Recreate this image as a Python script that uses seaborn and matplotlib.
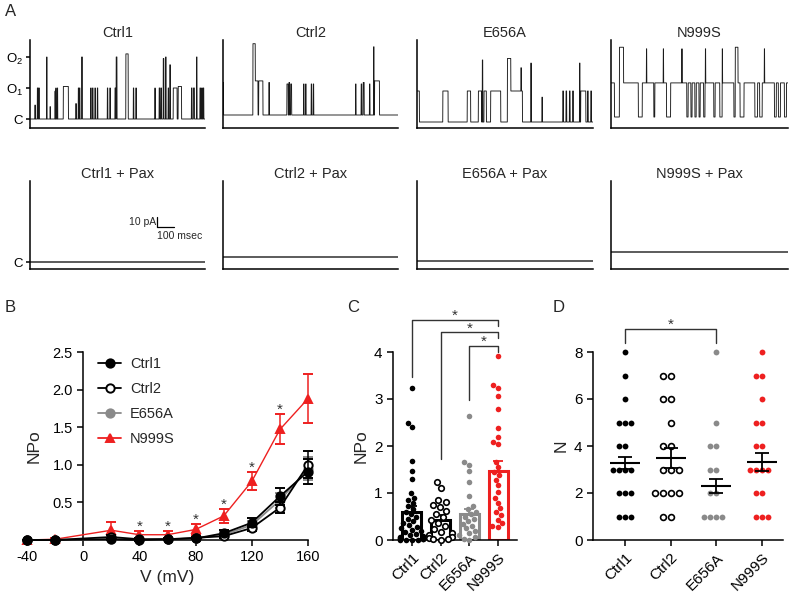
import numpy as np
import seaborn as sns
import matplotlib.pyplot as plt
from matplotlib.lines import Line2D

sns.set_style("ticks")
plt.rcParams['font.family'] = ['Liberation Sans', 'DejaVu Sans']
plt.rcParams['mathtext.fontset'] = 'custom'
plt.rcParams['mathtext.rm'] = 'Liberation Sans'
plt.rcParams['axes.unicode_minus'] = False
plt.rcParams['axes.linewidth'] = 1.1
plt.rcParams['xtick.major.width'] = 1.1
plt.rcParams['ytick.major.width'] = 1.1
plt.rcParams['xtick.color'] = 'black'
plt.rcParams['ytick.color'] = 'black'
plt.rcParams['axes.edgecolor'] = 'black'

groups = ['Ctrl1', 'Ctrl2', 'E656A', 'N999S']
palette = {'Ctrl1': '#000000', 'Ctrl2': '#000000', 'E656A': '#8a8a8a', 'N999S': '#ee2020'}

# ---- A: channel openings, (start ms, end ms, open level)
ctrl1_events = [
    (29, 31, 0.45), (43, 47, 1.0), (51, 55, 1.0), (98, 100, 2.0), (118, 120, 0.4),
    (147, 149, 0.9), (152, 154, 1.0), (161, 163, 1.0), (196, 226, 1.05), (270, 272, 0.5),
    (284, 287, 1.0), (291, 294, 1.0), (304, 308, 2.0), (357, 360, 1.0), (368, 371, 1.0),
    (382, 385, 1.0), (396, 399, 1.0), (455, 458, 1.0), (470, 473, 1.0), (500, 504, 1.0),
    (507, 512, 2.0), (564, 578, 2.1), (608, 611, 1.0), (623, 626, 1.0), (735, 737, 1.0),
    (760, 764, 1.0), (770, 774, 1.0), (784, 788, 1.95), (798, 801, 2.0), (813, 816, 1.0),
    (823, 826, 1.75), (843, 866, 1.0), (872, 892, 1.05), (950, 954, 1.0), (962, 968, 1.0),
    (980, 983, 2.0), (1000, 1004, 1.0), (1010, 1014, 1.0), (1019, 1023, 1.0),
]
ctrl2_events = [
    (0, 3, 1.05), (176, 190, 2.3), (190, 206, 1.1), (210, 235, 1.1), (270, 273, 1.05),
    (376, 384, 1.0), (388, 392, 1.05), (398, 404, 1.0), (474, 477, 1.0), (486, 489, 1.0),
    (519, 522, 1.0), (531, 534, 1.0), (780, 783, 1.0), (813, 817, 1.0), (825, 831, 1.05),
    (862, 865, 1.0), (886, 889, 2.2), (892, 921, 1.1),
]
e656a_events = [
    (0, 14, 1.0), (151, 182, 1.0), (294, 314, 1.0), (359, 378, 1.0), (382, 385, 2.0),
    (392, 406, 1.0), (431, 490, 1.0), (529, 549, 2.05), (549, 617, 1.0), (608, 611, 1.75),
    (666, 669, 1.9), (731, 734, 0.8), (853, 857, 1.0), (872, 876, 1.0), (892, 896, 1.0),
    (911, 915, 1.0), (951, 954, 1.9), (958, 988, 1.0), (998, 1002, 1.0), (1017, 1021, 1.0),
]
n999s_events = [
    (0, 20, 1.1), (49, 73, 2.25), (73, 159, 1.1), (182, 249, 1.1), (255, 323, 1.1),
    (347, 441, 1.1), (449, 465, 1.1), (472, 488, 1.1), (496, 512, 1.1), (519, 539, 1.1),
    (547, 598, 1.1), (606, 633, 1.1), (649, 715, 1.1), (723, 739, 2.25), (739, 751, 1.1),
    (774, 837, 1.1), (853, 865, 1.1), (880, 951, 1.1), (962, 974, 1.1), (986, 1009, 1.1),
    (1021, 1030, 1.1), (206, 208, 2.2), (304, 306, 2.2), (412, 414, 2.2), (549, 551, 2.2),
    (647, 649, 2.2), (892, 894, 2.2),
]
trace_events = [ctrl1_events, ctrl2_events, e656a_events, n999s_events]
unit_current = 31      # pA per open channel
record_ms = 1030

# ---- B: NPo vs voltage
voltage = [-40, -20, 20, 40, 60, 80, 100, 120, 140, 160]
npo_v = {
    'Ctrl1': [0, 0, 0.01, 0.0, 0.01, 0.02, 0.09, 0.23, 0.58, 0.91],
    'Ctrl2': [0, 0, 0.04, 0.01, 0.01, 0.03, 0.05, 0.16, 0.43, 1.00],
    'E656A': [0, 0, 0.01, 0.01, 0.01, 0.02, 0.07, 0.20, 0.53, 0.95],
    'N999S': [0, 0.01, 0.13, 0.07, 0.07, 0.14, 0.32, 0.78, 1.47, 1.88],
}
sem_v = {
    'Ctrl1': [0, 0, 0.01, 0.01, 0.01, 0.01, 0.04, 0.06, 0.11, 0.17],
    'Ctrl2': [0, 0, 0.02, 0.01, 0.01, 0.01, 0.02, 0.04, 0.07, 0.18],
    'E656A': [0, 0, 0.01, 0.01, 0.01, 0.01, 0.03, 0.05, 0.10, 0.15],
    'N999S': [0, 0.01, 0.11, 0.05, 0.05, 0.07, 0.09, 0.12, 0.20, 0.33],
}
star_voltages = [40, 60, 80, 100, 120, 140]

# ---- C: NPo per cell at +140 mV
npo_cells = {
    'Ctrl1': [3.23, 2.49, 2.40, 1.68, 1.47, 1.30, 1.00, 0.90, 0.85, 0.78, 0.72, 0.66, 0.60,
              0.55, 0.50, 0.45, 0.40, 0.36, 0.32, 0.28, 0.25, 0.22, 0.19, 0.16, 0.13, 0.11,
              0.09, 0.07, 0.05, 0.04, 0.03, 0.02, 0.02, 0.01, 0.01, 0.0, 0.0],
    'Ctrl2': [1.23, 1.10, 0.85, 0.80, 0.75, 0.70, 0.62, 0.55, 0.48, 0.42, 0.36, 0.30, 0.24,
              0.18, 0.14, 0.10, 0.07, 0.05, 0.03, 0.02, 0.01],
    'E656A': [2.64, 1.66, 1.60, 1.47, 1.23, 0.94, 0.72, 0.66, 0.60, 0.55, 0.50, 0.45, 0.40,
              0.35, 0.30, 0.25, 0.20, 0.15, 0.10, 0.06, 0.03, 0.01],
    'N999S': [3.91, 3.30, 3.23, 3.06, 2.79, 2.38, 2.20, 2.09, 2.04, 1.66, 1.55, 1.45, 1.38,
              1.28, 1.17, 1.02, 0.89, 0.79, 0.68, 0.60, 0.53, 0.43, 0.36, 0.30, 0.28],
}
npo_mean = [0.60, 0.43, 0.55, 1.47]
npo_sem = [0.12, 0.10, 0.10, 0.21]

# ---- D: number of channels per patch
n_cells = {
    'Ctrl1': [8, 7, 6, 5, 5, 5, 4, 4, 3, 3, 3, 3, 2, 2, 2, 1, 1, 1],
    'Ctrl2': [7, 7, 6, 6, 5, 4, 4, 3, 3, 3, 2, 2, 2, 2, 1, 1],
    'E656A': [8, 5, 4, 4, 3, 3, 2, 2, 1, 1, 1, 1],
    'N999S': [8, 7, 7, 6, 5, 5, 4, 4, 3, 3, 3, 3, 2, 2, 1, 1, 1],
}
n_mean = [3.28, 3.50, 2.31, 3.33]
n_sem = [0.26, 0.42, 0.30, 0.38]

W, H = 800, 603
fig = plt.figure(figsize=(W / 100, H / 100), dpi=100)


def add_ax(x0, y0, x1, y1):
    return fig.add_axes([x0 / W, 1 - y1 / H, (x1 - x0) / W, (y1 - y0) / H])


def swarm(ax, g, values, size, open_marker=False):
    n_before = len(ax.collections)
    sns.swarmplot(x=[g] * len(values), y=values, order=groups, color=palette[g],
                  size=size, ax=ax, zorder=5, clip_on=False, warn_thresh=1)
    if open_marker:
        for coll in ax.collections[n_before:]:
            if len(coll.get_offsets()):
                coll.set_facecolor('white')
                coll.set_edgecolor('black')
                coll.set_linewidth(1.2)


# ---------------- A ----------------
row_tops = [40, 181]
row_bottoms = [128, 269]
trace_left = [30, 223, 417, 611]
trace_right = [205, 398, 593, 788]
baselines = [[119, 115, 122, 117], [262, 257, 261, 252]]
t = np.arange(0, record_ms, 0.5)
trace_axes = {}
for row in range(2):
    for i, g in enumerate(groups):
        ax = add_ax(trace_left[i], row_tops[row], trace_right[i], row_bottoms[row])
        level = np.zeros_like(t)
        if row == 0:
            for s, e, lv in trace_events[i]:
                m = (t >= s) & (t < e)
                level[m] = np.maximum(level[m], lv)
        ax.plot(t, level * unit_current, color='#1a1a1a', lw=0.65 if row == 0 else 1.0)
        low = -(row_bottoms[row] - baselines[row][i])
        ax.set_ylim(low, low + row_bottoms[row] - row_tops[row])
        ax.set_xlim(0, record_ms)
        sns.despine(ax=ax)
        ax.set_xticks([])
        ax.set_yticks([])
        ax.set_title(g if row == 0 else g + ' + Pax', fontsize=10.5, pad=2)
        trace_axes[(row, i)] = ax

ax = trace_axes[(0, 0)]
ax.set_yticks([0, unit_current, 2 * unit_current], ['C', r'O$_1$', r'O$_2$'], fontsize=9.5)
ax.tick_params(axis='y', length=3, pad=2)
ax = trace_axes[(1, 0)]
ax.set_yticks([0], ['C'], fontsize=9.5)
ax.tick_params(axis='y', length=3, pad=2)
ax.plot([747, 747, 847], [45, 35, 35], color='black', lw=0.9)
ax.text(740, 40, '10 pA', ha='right', va='center', fontsize=7.5)
ax.text(750, 31, '100 msec', ha='left', va='top', fontsize=7.5)

# ---------------- B ----------------
axB = add_ax(27, 352, 308, 540)
marker_style = {
    'Ctrl1': dict(marker='o', mfc='black', mec='black'),
    'Ctrl2': dict(marker='o', mfc='white', mec='black'),
    'E656A': dict(marker='o', mfc=palette['E656A'], mec=palette['E656A']),
    'N999S': dict(marker='^', mfc=palette['N999S'], mec=palette['N999S']),
}
for z, g in enumerate(['N999S', 'E656A', 'Ctrl2', 'Ctrl1']):
    axB.errorbar(voltage, npo_v[g], yerr=sem_v[g], color=palette[g],
                 lw=1.0 if g == 'N999S' else 1.3, ms=6, mew=1.4, capsize=3.5,
                 elinewidth=1.1, capthick=1.1, clip_on=False, zorder=3 + z,
                 **marker_style[g])
red_top = np.array(npo_v['N999S']) + np.array(sem_v['N999S'])
for v in star_voltages:
    axB.text(v, red_top[voltage.index(v)] + 0.06, '*', ha='center', va='center',
             fontsize=11, color='#333333')
axB.set_xlim(-40, 160)
axB.set_ylim(0, 2.5)
axB.spines['left'].set_position(('data', 0))
sns.despine(ax=axB)
axB.set_xticks([-40, 0, 40, 80, 120, 160])
axB.set_yticks([0.5, 1.0, 1.5, 2.0, 2.5], ['0.5', '1.0', '1.5', '2.0', '2.5'])
axB.tick_params(labelsize=10.5, length=4)
axB.set_xlabel('V (mV)', fontsize=12.5, labelpad=4)
axB.set_ylabel('NPo', fontsize=12.5)
axB.yaxis.set_label_coords((42 - 27) / 281, 0.5)
handles = [Line2D([], [], color=palette[g], lw=1.3, ms=6, mew=1.4, **marker_style[g])
           for g in groups]
axB.legend(handles, groups, loc='upper left', bbox_to_anchor=(92 / W, 1 - 351 / H),
           bbox_transform=fig.transFigure, frameon=False, fontsize=10.5,
           handlelength=1.6, handletextpad=0.6, labelspacing=0.75, borderaxespad=0)

# ---------------- C ----------------
axC = add_ax(393, 352, 517, 540)
sns.barplot(x=groups, y=npo_mean, hue=groups, palette=palette, order=groups,
            fill=False, linewidth=2.2, width=0.66, errorbar=None, legend=False, ax=axC)
for i, g in enumerate(groups):
    axC.errorbar(i, npo_mean[i], yerr=[[0], [npo_sem[i]]], fmt='none',
                 ecolor=palette[g], elinewidth=1.3, capsize=3.5, capthick=1.3, zorder=4)
for g in groups:
    swarm(axC, g, npo_cells[g], 4, open_marker=(g == 'Ctrl2'))
for x1, x2, top, left_end, right_end in [(0, 3, 4.68, 3.47, 4.55), (1, 3, 4.42, 1.72, 4.30),
                                         (2, 3, 4.13, 2.98, 4.00)]:
    axC.plot([x1, x1, x2, x2], [left_end, top, top, right_end], color='#333333', lw=1,
             clip_on=False)
    axC.text((x1 + x2) / 2, top + 0.08, '*', ha='center', va='center', fontsize=11,
             color='#333333')
axC.set_xlim(-0.66, 3.66)
axC.set_ylim(0, 4)
axC.set_yticks([0, 1, 2, 3, 4])
sns.despine(ax=axC)
axC.tick_params(labelsize=11, length=4)
axC.set_xticks(range(4), groups, rotation=45, ha='right', rotation_mode='anchor')
axC.set_ylabel('NPo', fontsize=12.5)

# ---------------- D ----------------
axD = add_ax(593, 352, 783, 540)
for g in groups:
    swarm(axD, g, n_cells[g], 4.2, open_marker=(g == 'Ctrl2'))
for i, g in enumerate(groups):
    axD.hlines(n_mean[i], i - 0.33, i + 0.33, color='black', lw=1.5, zorder=6)
    axD.errorbar(i, n_mean[i], yerr=n_sem[i], fmt='none', ecolor='black',
                 elinewidth=1.3, capsize=5, capthick=1.3, zorder=6)
axD.plot([0, 0, 2, 2], [8.4, 8.97, 8.97, 8.4], color='#333333', lw=1, clip_on=False)
axD.text(1, 9.15, '*', ha='center', va='center', fontsize=11, color='#333333')
axD.set_xlim(-0.7, 3.46)
axD.set_ylim(0, 8)
axD.set_yticks([0, 2, 4, 6, 8])
sns.despine(ax=axD)
axD.tick_params(labelsize=11, length=4)
axD.set_xticks(range(4), groups, rotation=45, ha='right', rotation_mode='anchor')
axD.set_ylabel('N', fontsize=12.5)

# panel letters
for letter, x, y in [('A', 5, 12), ('B', 5, 308), ('C', 347, 307), ('D', 553, 308)]:
    fig.text(x / W, 1 - y / H, letter, fontsize=12, ha='left', va='center')

fig.savefig('out.png', dpi=100)
